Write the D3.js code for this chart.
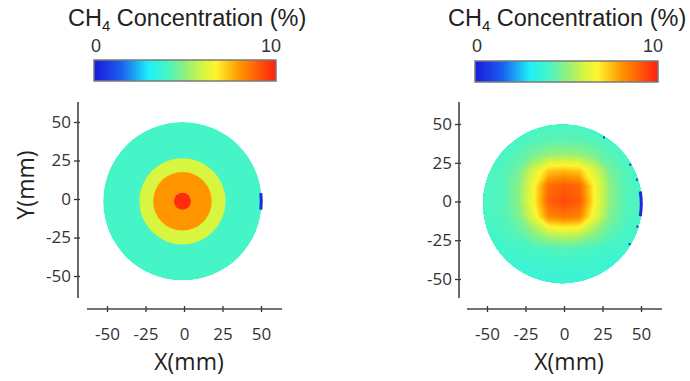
<!DOCTYPE html>
<html>
<head>
<meta charset="utf-8">
<title>CH4 Concentration</title>
<script src="https://cdn.jsdelivr.net/npm/d3@7"></script>
<style>
  body { margin: 0; background: #fff; }
  svg { display: block; }
  .tick text { font-family: "Open Sans", sans-serif; font-size: 17px; fill: #333; }
  .title { font-family: "Liberation Sans", Arial, sans-serif; font-size: 23.5px; fill: #222; }
  .cbar-label { font-family: "Liberation Sans", Arial, sans-serif; font-size: 18px; fill: #333; }
  .axis-label { font-family: "Open Sans", sans-serif; font-size: 23px; fill: #222; }
</style>
</head>
<body>
<svg id="chart" width="690" height="381"></svg>
<script>
// colour map (value in % -> colour)
var stopValues = [0, 1.5, 3, 4, 5, 6, 6.7, 8, 10];
var stopColors = ['#1a1ad8', '#1a5ff0', '#1ef0f8', '#45f5c8', '#90f080', '#d8f540', '#fff530', '#ff9600', '#ff2010'];

var tickValues = [-50, -25, 0, 25, 50];

// left panel: concentric level rings (radius in mm, value in %)
var ringRadius = [51.5, 28, 19, 5.5];
var ringValue = [4.0, 6.0, 8.0, 9.8];

// right panel: grid of values, x = -50..50 step 10 (cols), y = 50..-50 step 10 (rows)
var gridX = [-50, -40, -30, -20, -10, 0, 10, 20, 30, 40, 50];
var gridY = [50, 40, 30, 20, 10, 0, -10, -20, -30, -40, -50];
var gridValues = [
  [4.0, 4.0, 4.0, 4.0, 4.1, 4.1, 4.1, 4.0, 4.0, 4.0, 4.0],
  [4.0, 4.0, 4.1, 4.2, 4.3, 4.3, 4.3, 4.2, 4.1, 4.0, 4.0],
  [4.0, 4.1, 4.3, 4.7, 5.1, 5.2, 5.1, 4.7, 4.3, 4.1, 4.0],
  [4.1, 4.2, 4.6, 6.0, 7.3, 7.5, 7.3, 6.1, 4.7, 4.2, 4.1],
  [4.1, 4.2, 4.9, 6.5, 8.7, 9.0, 8.8, 6.6, 5.0, 4.2, 4.1],
  [4.1, 4.2, 4.9, 6.6, 8.9, 9.3, 9.0, 6.7, 5.0, 4.2, 4.1],
  [4.1, 4.2, 4.7, 6.2, 8.2, 8.5, 8.3, 6.3, 4.8, 4.2, 4.1],
  [4.0, 4.1, 4.3, 5.0, 5.8, 6.0, 5.9, 5.1, 4.4, 4.1, 4.0],
  [3.9, 4.0, 4.0, 4.1, 4.2, 4.3, 4.2, 4.1, 4.0, 4.0, 3.9],
  [3.8, 3.8, 3.8, 3.9, 3.9, 3.9, 3.9, 3.9, 3.8, 3.8, 3.8],
  [3.8, 3.8, 3.8, 3.8, 3.8, 3.8, 3.8, 3.8, 3.8, 3.8, 3.8]
];

// low-value (blue) spots on the right rim, angles in degrees
var leftEdgeArc = [-6, 6];
var rightEdgeArc = [-9, 9];
var rightEdgeDots = [58, 30, 18, -17, -31];
var edgeValue = 0.4;

var circleCenter = [-1, -1.5];
var circleRadius = 51.5;

var color = d3.scaleLinear().domain(stopValues).range(stopColors).clamp(true);

var svg = d3.select('#chart');
var defs = svg.append('defs');

var grad = defs.append('linearGradient').attr('id', 'cbar-grad');
stopValues.forEach(function (v, i) {
  grad.append('stop').attr('offset', (v / 10 * 100) + '%').attr('stop-color', stopColors[i]);
});

var panels = [
  { id: 'left', xr: [107, 261], yr: [276, 122], yAxisX: 78, yAxisSpan: [102, 298], xAxisY: 309, xAxisSpan: [87, 282],
    titleX: 68, cbar: [94, 60, 182, 21], edgeArc: leftEdgeArc, dots: [], yLabel: true },
  { id: 'right', xr: [487, 641], yr: [279, 124], yAxisX: 459, yAxisSpan: [102, 298], xAxisY: 309, xAxisSpan: [467, 662],
    titleX: 448, cbar: [475, 61, 183, 21], edgeArc: rightEdgeArc, dots: rightEdgeDots, yLabel: false }
];

panels.forEach(function (p) {
  var x = d3.scaleLinear().domain([-50, 50]).range(p.xr);
  var y = d3.scaleLinear().domain([-50, 50]).range(p.yr);
  var g = svg.append('g');

  // title with subscript
  var t = g.append('text').attr('class', 'title').attr('x', p.titleX).attr('y', 26);
  t.append('tspan').text('CH');
  t.append('tspan').attr('font-size', 15).attr('dy', 5).text('4');
  t.append('tspan').attr('dy', -5).text(' Concentration (%)');

  // colour bar
  g.append('rect').attr('x', p.cbar[0]).attr('y', p.cbar[1]).attr('width', p.cbar[2]).attr('height', p.cbar[3])
    .attr('fill', 'url(#cbar-grad)').attr('stroke', '#7a7a7a').attr('stroke-width', 1.5);
  g.append('text').attr('class', 'cbar-label').attr('x', p.cbar[0] + 2).attr('y', 52).attr('text-anchor', 'middle').text('0');
  g.append('text').attr('class', 'cbar-label').attr('x', p.cbar[0] + p.cbar[2] - 5).attr('y', 52).attr('text-anchor', 'middle').text('10');

  // circular domain
  var cx = x(circleCenter[0]), cy = y(circleCenter[1]);
  var rpx = (x(circleRadius) - x(0));
  defs.append('clipPath').attr('id', 'clip-' + p.id)
    .append('circle').attr('cx', cx).attr('cy', cy).attr('r', rpx);
  var field = g.append('g').attr('clip-path', 'url(#clip-' + p.id + ')');

  if (p.id === 'left') {
    ringRadius.forEach(function (r, i) {
      field.append('circle').attr('cx', cx).attr('cy', cy).attr('r', x(r) - x(0))
        .attr('fill', color(ringValue[i]));
    });
  } else {
    var n = gridX.length, m = gridY.length;
    var flat = [];
    gridValues.forEach(function (row) { row.forEach(function (v) { flat.push(v); }); });
    var thresholds = d3.range(3.5, 9.5, 0.05);
    var contours = d3.contours().size([n, m]).thresholds(thresholds)(flat);
    var dx = gridX[1] - gridX[0], dy = gridY[1] - gridY[0];
    var proj = d3.geoTransform({
      point: function (px, py) {
        this.stream.point(x(gridX[0] + dx * (px - 0.5)), y(gridY[0] + dy * (py - 0.5)));
      }
    });
    var path = d3.geoPath(proj);
    field.append('circle').attr('cx', cx).attr('cy', cy).attr('r', rpx).attr('fill', color(3.8));
    field.selectAll('path.lvl').data(contours).join('path').attr('class', 'lvl')
      .attr('d', path).attr('fill', function (d) { return color(d.value); });
  }

  // blue rim spots
  var arc = d3.arc().innerRadius(rpx - 2).outerRadius(rpx + 1)
    .startAngle((90 - p.edgeArc[1]) * Math.PI / 180).endAngle((90 - p.edgeArc[0]) * Math.PI / 180);
  g.append('path').attr('transform', 'translate(' + cx + ',' + cy + ')').attr('d', arc()).attr('fill', color(edgeValue));
  g.selectAll('circle.dot').data(p.dots).join('circle').attr('class', 'dot')
    .attr('cx', function (a) { return cx + (rpx - 1) * Math.cos(a * Math.PI / 180); })
    .attr('cy', function (a) { return cy - (rpx - 1) * Math.sin(a * Math.PI / 180); })
    .attr('r', 1.1).attr('fill', color(edgeValue));

  // axes
  var fmt = function (d) { return String(d); };
  var yAxis = g.append('g').attr('transform', 'translate(' + p.yAxisX + ',0)')
    .call(d3.axisLeft(y).tickValues(tickValues).tickFormat(fmt).tickSize(4).tickPadding(3));
  yAxis.select('.domain').remove();
  yAxis.selectAll('.tick line').attr('x1', 2).attr('stroke', '#333').attr('stroke-width', 1.3);
  g.append('line').attr('x1', p.yAxisX).attr('x2', p.yAxisX).attr('y1', p.yAxisSpan[0]).attr('y2', p.yAxisSpan[1])
    .attr('stroke', '#444').attr('stroke-width', 1.6);

  var xAxis = g.append('g').attr('transform', 'translate(0,' + p.xAxisY + ')')
    .call(d3.axisBottom(x).tickValues(tickValues).tickFormat(fmt).tickSize(3).tickPadding(16));
  xAxis.select('.domain').remove();
  xAxis.selectAll('.tick line').attr('y1', -3).attr('stroke', '#333').attr('stroke-width', 1.3);
  g.append('line').attr('y1', p.xAxisY).attr('y2', p.xAxisY).attr('x1', p.xAxisSpan[0]).attr('x2', p.xAxisSpan[1])
    .attr('stroke', '#444').attr('stroke-width', 1.6);

  g.append('text').attr('class', 'axis-label').attr('x', x(0) + 5).attr('y', 370).attr('text-anchor', 'middle').text('X(mm)');
  if (p.yLabel) {
    g.append('text').attr('class', 'axis-label').attr('transform', 'translate(34,' + (y(0) - 14) + ') rotate(-90)')
      .attr('text-anchor', 'middle').text('Y(mm)');
  }
});
</script>
</body>
</html>
